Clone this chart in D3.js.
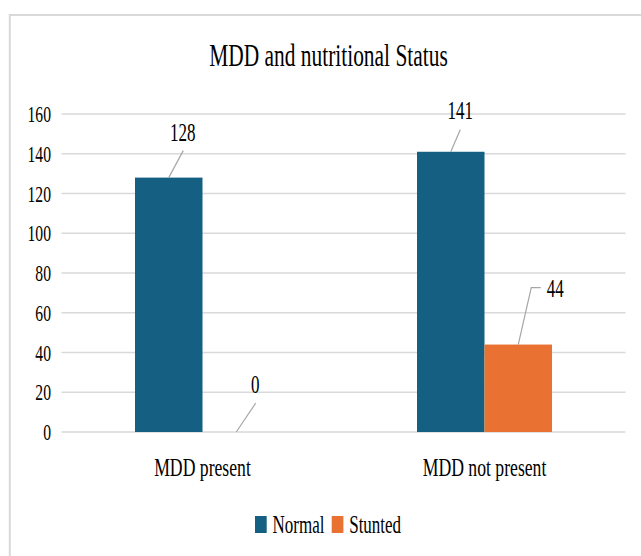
<!DOCTYPE html>
<html>
<head>
<meta charset="utf-8">
<script src="https://cdn.jsdelivr.net/npm/d3@7"></script>
<style>
  html, body { margin: 0; padding: 0; background: #ffffff; }
  svg { display: block; }
  svg text { font-family: "Liberation Serif", "Times New Roman", Times, serif; fill: #000; }
</style>
</head>
<body>
<svg id="chart" width="641" height="556"></svg>
<script>
// Chart data
const title = "MDD and nutritional Status";
const categories = ["MDD present", "MDD not present"];
const seriesNames = ["Normal", "Stunted"];
const normalValues = [128, 141];
const stuntedValues = [0, 44];
const yTicks = [0, 20, 40, 60, 80, 100, 120, 140, 160];

const colors = { Normal: "#156082", Stunted: "#E97132" };
const squeeze = 0.68;   // condensed lettering
const serif = "'Liberation Serif', 'Times New Roman', Times, serif";

// Data-label callout placement, relative to the top-centre of each bar
const labelLayout = {
  "MDD present|Normal":     { dx: 14,  dy: -37, lead: [[14.5, -27], [0, 0]] },
  "MDD present|Stunted":    { dx: 19,  dy: -39, lead: [[19.5, -29], [0, 0]] },
  "MDD not present|Normal": { dx: 9.5, dy: -33, lead: [[9.5, -22], [0, 0]] },
  "MDD not present|Stunted":{ dx: 37,  dy: -48, lead: [[22.5, -57], [13, -57], [0, 0]] }
};

const svg = d3.select("#chart").attr("font-family", serif);

// outer chart frame
svg.append("rect")
  .attr("x", 9.8).attr("y", 15)
  .attr("width", 700).attr("height", 600)
  .attr("fill", "none").attr("stroke", "#d9d9d9").attr("stroke-width", 2);

const plot = { left: 61.5, right: 625.5, top: 114, bottom: 432 };

const y = d3.scaleLinear().domain([0, 160]).range([plot.bottom, plot.top]);
const x0 = d3.scaleBand().domain(categories)
  .range([plot.left, plot.right])
  .paddingInner(0.5213).paddingOuter(0.2606);
const x1 = d3.scaleBand().domain(seriesNames).range([0, x0.bandwidth()]);

const rows = categories.map((c, i) => ({
  category: c,
  values: [
    { series: "Normal", value: normalValues[i] },
    { series: "Stunted", value: stuntedValues[i] }
  ]
}));

// gridlines
svg.append("g").selectAll("line").data(yTicks).join("line")
  .attr("x1", plot.left).attr("x2", plot.right)
  .attr("y1", d => y(d)).attr("y2", d => y(d))
  .attr("stroke", "#d9d9d9").attr("stroke-width", 1.6);

// y axis labels
const yAxis = svg.append("g")
  .attr("transform", `translate(${plot.left},0)`)
  .call(d3.axisLeft(y).tickValues(yTicks).tickSize(0).tickFormat(d3.format("d")))
  .attr("font-family", serif).attr("font-size", 23);
yAxis.select(".domain").remove();
yAxis.selectAll("text")
  .attr("x", 0).attr("dy", null)
  .attr("transform", `translate(-10.5,7.5) scale(${squeeze},1)`)
  .attr("fill", "#000");

// x axis category labels
const xAxis = svg.append("g")
  .attr("transform", `translate(0,${plot.bottom})`)
  .call(d3.axisBottom(x0).tickSize(0))
  .attr("font-family", serif).attr("font-size", 26);
xAxis.select(".domain").remove();
xAxis.selectAll("text")
  .attr("y", 0).attr("dy", null)
  .attr("transform", `translate(0,43.5) scale(${squeeze},1)`)
  .attr("fill", "#000");

// bars
const groups = svg.append("g").selectAll("g").data(rows).join("g")
  .attr("transform", d => `translate(${x0(d.category)},0)`);

groups.selectAll("rect").data(d => d.values).join("rect")
  .attr("x", d => x1(d.series))
  .attr("y", d => y(d.value))
  .attr("width", x1.bandwidth())
  .attr("height", d => y(0) - y(d.value))
  .attr("fill", d => colors[d.series]);

// data labels with leader lines
const labels = [];
rows.forEach(r => r.values.forEach(v => {
  const cx = x0(r.category) + x1(v.series) + x1.bandwidth() / 2;
  const cy = y(v.value);
  labels.push({ cx, cy, value: v.value, lay: labelLayout[r.category + "|" + v.series] });
}));

const line = d3.line();
svg.append("g").selectAll("path").data(labels).join("path")
  .attr("d", d => line(d.lay.lead.map(p => [d.cx + p[0], d.cy + p[1]])))
  .attr("fill", "none").attr("stroke", "#a6a6a6").attr("stroke-width", 1.2);

svg.append("g").attr("font-size", 25).selectAll("text").data(labels).join("text")
  .attr("transform", d => `translate(${d.cx + d.lay.dx},${d.cy + d.lay.dy}) scale(${squeeze},1)`)
  .attr("text-anchor", "middle")
  .text(d => d.value);

// title
svg.append("text")
  .attr("transform", `translate(328.5,66) scale(${squeeze},1)`)
  .attr("text-anchor", "middle")
  .attr("font-size", 31.5)
  .text(title);

// legend
const legendItems = [
  { name: "Normal", x: 255 },
  { name: "Stunted", x: 331.7 }
];
const lg = svg.append("g").selectAll("g").data(legendItems).join("g")
  .attr("transform", d => `translate(${d.x},0)`);
lg.append("rect")
  .attr("x", 0).attr("y", 516)
  .attr("width", 11.7).attr("height", 17)
  .attr("fill", d => colors[d.name]);
lg.append("text")
  .attr("transform", `translate(17.5,533) scale(${squeeze},1)`)
  .attr("font-size", 25)
  .text(d => d.name);
</script>
</body>
</html>
